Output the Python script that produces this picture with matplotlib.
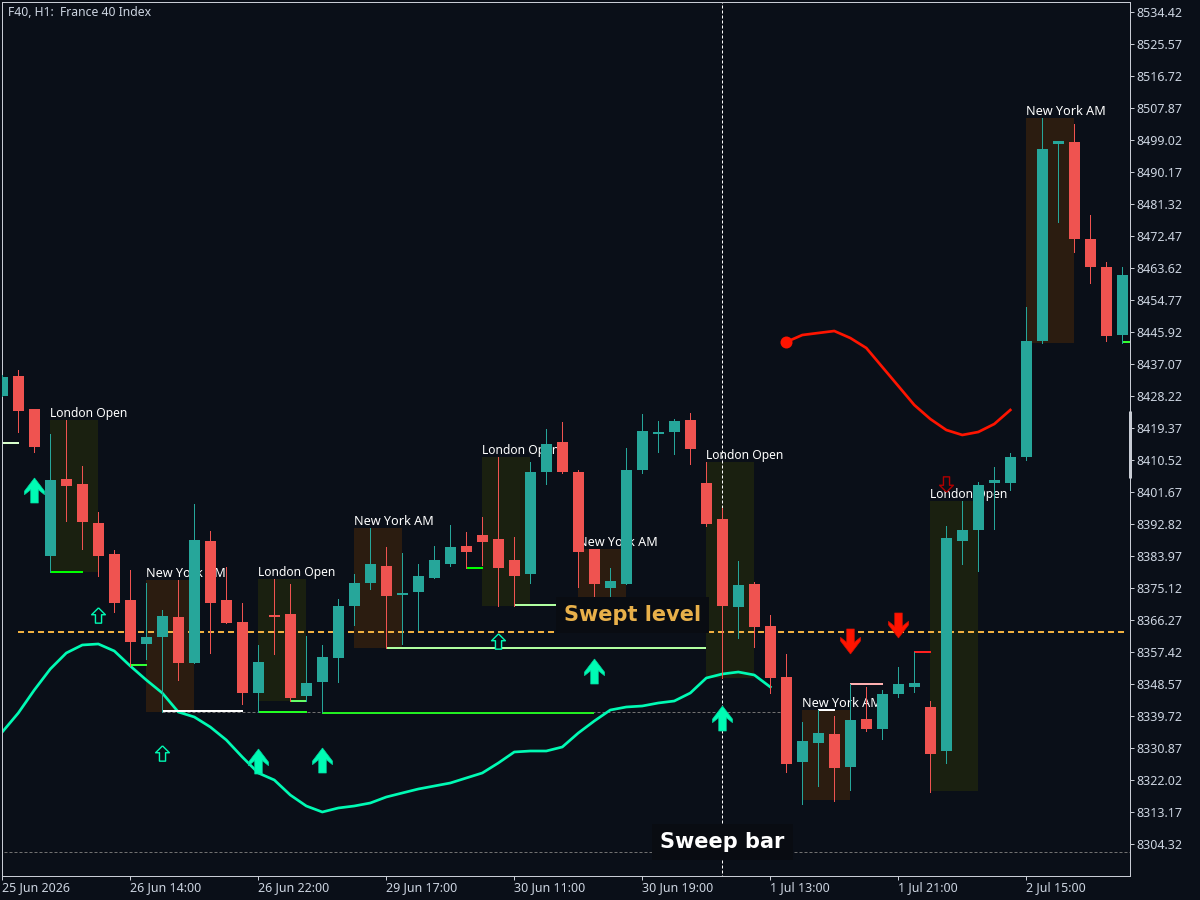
# -*- coding: utf-8 -*-
import numpy as np
from matplotlib import pyplot as plt
from matplotlib.path import Path

highs = [8434.11, 8435.49, 8424.71, 8417.79, 8421.66, 8408.94, 8396.22, 8385.71, 8380.18, 8376.59,
         8369.12, 8377.42, 8398.43, 8390.97, 8381.01, 8371.05, 8359.44, 8377.69, 8376.31, 8361.93,
         8359.44, 8372.16, 8379.07, 8391.80, 8386.54, 8384.88, 8381.84, 8386.82, 8392.63, 8390.69,
         8394.84, 8411.43, 8389.31, 8410.05, 8419.18, 8421.11, 8407.84, 8385.99, 8380.73, 8413.92,
         8423.32, 8421.39, 8421.94, 8423.60, 8410.05, 8397.33, 8382.67, 8376.86, 8367.74, 8356.95,
         8338.14, 8341.46, 8339.80, 8348.65, 8347.82, 8346.99, 8353.35, 8357.50, 8343.95, 8392.35,
         8399.26, 8404.52, 8408.67, 8412.54, 8452.92, 8505.19, 8498.83, 8503.53, 8478.36, 8465.36,
         8463.98]
opens = [8428.30, 8433.83, 8424.71, 8384.05, 8405.35, 8403.96, 8393.18, 8384.61, 8371.88, 8359.72,
         8361.65, 8367.18, 8354.46, 8388.20, 8371.88, 8365.80, 8346.16, 8367.74, 8368.01, 8345.33,
         8349.21, 8355.84, 8370.22, 8376.59, 8381.29, 8373.27, 8374.10, 8377.97, 8381.84, 8386.82,
         8389.86, 8388.75, 8382.95, 8379.07, 8407.28, 8415.58, 8407.28, 8385.99, 8375.20, 8376.31,
         8407.84, 8417.79, 8418.35, 8421.66, 8404.24, 8394.29, 8369.95, 8376.31, 8364.69, 8350.59,
         8327.08, 8332.34, 8334.83, 8325.70, 8338.97, 8336.21, 8345.89, 8347.82, 8342.29, 8330.12,
         8388.20, 8391.24, 8404.24, 8404.24, 8411.43, 8443.51, 8498.00, 8498.55, 8471.72, 8463.98,
         8445.17]
closes = [8433.56, 8424.15, 8414.20, 8405.07, 8403.41, 8393.46, 8384.05, 8371.05, 8360.27, 8361.65,
          8367.46, 8354.46, 8388.48, 8371.05, 8365.52, 8346.16, 8354.74, 8367.18, 8344.78, 8348.93,
          8356.12, 8370.22, 8376.59, 8381.84, 8372.99, 8373.82, 8378.52, 8382.95, 8386.54, 8385.16,
          8387.92, 8380.73, 8378.52, 8407.28, 8415.03, 8407.28, 8385.16, 8376.31, 8377.14, 8407.84,
          8418.62, 8418.35, 8421.39, 8413.64, 8392.90, 8370.22, 8376.03, 8364.42, 8350.31, 8326.53,
          8332.89, 8335.10, 8325.42, 8338.70, 8336.21, 8345.89, 8348.65, 8348.93, 8329.29, 8389.03,
          8391.24, 8403.69, 8405.07, 8411.43, 8443.51, 8496.61, 8498.83, 8471.72, 8463.98, 8444.90,
          8461.77]
lows = [8428.30, 8418.35, 8412.81, 8379.63, 8393.73, 8385.99, 8378.52, 8368.57, 8353.63, 8355.57,
        8340.91, 8349.76, 8354.46, 8357.23, 8365.52, 8343.12, 8340.91, 8356.95, 8343.95, 8343.95,
        8340.91, 8349.21, 8364.97, 8374.93, 8358.61, 8359.72, 8363.59, 8377.97, 8381.29, 8380.73,
        8381.56, 8370.22, 8370.22, 8376.59, 8403.96, 8407.01, 8375.48, 8363.03, 8371.88, 8376.31,
        8407.01, 8412.81, 8412.26, 8409.50, 8392.35, 8350.31, 8361.37, 8358.89, 8346.16, 8324.32,
        8315.47, 8320.44, 8316.30, 8319.34, 8335.65, 8333.44, 8345.06, 8346.44, 8318.78, 8326.80,
        8381.84, 8379.90, 8391.52, 8402.31, 8410.60, 8442.96, 8476.42, 8468.13, 8459.55, 8443.51,
        8442.96]

# moving average, bars 0..48
ma_values = [8335.38, 8340.63, 8346.99, 8352.80, 8357.23, 8359.44, 8359.72, 8357.78, 8353.63, 8349.76,
             8346.16, 8340.91, 8339.53, 8336.76, 8333.17, 8328.46, 8324.04, 8322.10, 8317.95, 8314.91,
             8313.25, 8314.36, 8314.91, 8315.74, 8317.40, 8318.51, 8319.61, 8320.44, 8321.27, 8322.66,
             8324.04, 8326.80, 8329.85, 8330.12, 8330.12, 8331.23, 8335.10, 8338.42, 8341.46, 8342.29,
             8342.57, 8343.40, 8343.95, 8346.16, 8350.31, 8351.42, 8351.97, 8351.14, 8347.82]

# red forecast curve, bars 49..63
red_bars = list(range(49, 64))
red_values = [8443.24, 8445.17, 8445.73, 8446.28, 8444.34, 8441.58, 8436.32, 8431.07, 8425.81, 8421.94,
              8418.90, 8417.52, 8418.35, 8420.56, 8424.43]

session_names = ["London Open", "New York AM", "London Open", "New York AM", "London Open",
                 "New York AM", "London Open", "New York AM", "London Open", "New York AM"]
session_start = [3, 9, 16, 22, 30, 36, 44, 50, 58, 64]
session_end = [6, 12, 19, 25, 33, 39, 47, 53, 61, 67]
session_top = [8421.66, 8377.42, 8377.69, 8391.80, 8411.43, 8385.99, 8410.05, 8341.46, 8399.26, 8505.19]
session_bottom = [8379.63, 8340.91, 8343.95, 8358.61, 8370.22, 8363.03, 8350.31, 8316.57, 8319.06, 8442.96]

level_start = [0, 3, 8, 10, 16, 18, 20, 29, 32, 24, 37, 51, 53, 57, 70]
level_end = [1.05, 5.05, 9.05, 15.05, 19.05, 19.05, 37, 30.05, 38, 44, 44, 52.05, 55.05, 58.05, 71]
level_price = [8415.30, 8379.63, 8353.91, 8341.19, 8340.91, 8343.95, 8340.63, 8380.73, 8370.50,
               8358.61, 8363.03, 8341.46, 8348.65, 8357.50, 8443.24]
level_color = ["#d8ffcc", "#00ff00", "#33ff33", "#ffffff", "#22ff22", "#66ff66", "#22ee22", "#00ff00",
               "#b0ffa0", "#b0ffa0", "#b0ffa0", "#ffffff", "#ffb0b0", "#ff2020", "#33ff33"]

swept_price = 8363.03
grey_price_a = 8340.91
grey_price_b = 8302.19
sweep_bar = 45

big_up_bars = [2, 16, 20, 37, 45]
big_up_prices = [8402.44, 8327.36, 8327.77, 8352.11, 8339.25]
small_up_bars = [6, 10, 31]
small_up_prices = [8367.87, 8329.43, 8360.55]
big_down_bars = [53, 56]
big_down_prices = [8360.41, 8364.97]
small_down_bars = [59]
small_down_prices = [8404.10]

y_ticks = [8534.42, 8525.57, 8516.72, 8507.87, 8499.02, 8490.17, 8481.32, 8472.47, 8463.62, 8454.77,
           8445.92, 8437.07, 8428.22, 8419.37, 8410.52, 8401.67, 8392.82, 8383.97, 8375.12, 8366.27,
           8357.42, 8348.57, 8339.72, 8330.87, 8322.02, 8313.17, 8304.32]
x_ticks = [0, 8, 16, 24, 32, 40, 48, 56, 64]
x_labels = ["25 Jun 2026", "26 Jun 14:00", "26 Jun 22:00", "29 Jun 17:00", "30 Jun 11:00",
            "30 Jun 19:00", "1 Jul 13:00", "1 Jul 21:00", "2 Jul 15:00"]

BG = "#0a0f18"
UP = "#26a69a"
DOWN = "#ef5350"
FRAME = "#c8ccd4"
TEXT = "#ccd4e0"
MINT = "#00fbb4"
px = 0.72  # one pixel in points at dpi 100

plt.rcParams["font.family"] = ["Noto Sans", "DejaVu Sans"]

up_big = Path([(0, 1), (0.8, -0.05), (0.8, -0.33), (0.3, 0.07), (0.3, -1), (-0.3, -1),
               (-0.3, 0.07), (-0.8, -0.33), (-0.8, -0.05), (0, 1)])
down_big = Path(up_big.vertices * [1, -1])
up_small = Path([(0, 1), (0.9, 0.1), (0.4, 0.1), (0.4, -1), (-0.4, -1), (-0.4, 0.1), (-0.9, 0.1), (0, 1)])
down_small = Path(up_small.vertices * [1, -1])

fig = plt.figure(figsize=(12, 9), dpi=100, facecolor=BG)
ax = fig.add_axes([2 / 1200, 1 - 876 / 900, 1128 / 1200, 874 / 900], facecolor=BG)

bars = np.arange(len(opens))
opens_a = np.array(opens)
closes_a = np.array(closes)
colors = [UP if c >= o else DOWN for o, c in zip(opens, closes)]

# session boxes sit at the very back
for name, s, e, top, bottom in zip(session_names, session_start, session_end, session_top, session_bottom):
    london = name.startswith("London")
    ax.bar(s, top - bottom, bottom=bottom, width=e - s, align="edge", linewidth=0, antialiased=False,
           color="#1a2010" if london else "#2b1c10", zorder=1)
    ax.annotate(name, (s, top), xytext=(0, 0), textcoords="offset points", color="white",
                fontsize=8.7 if london else 9.1, ha="left", va="bottom", zorder=2)

ax.hlines(grey_price_a, 10, 49, color="#707070", lw=px, linestyle=(0, (3, 2)), zorder=1.5)
ax.hlines(grey_price_b, -1, 72, color="#707070", lw=px, linestyle=(0, (3, 2)), zorder=1.5)
ax.vlines(sweep_bar, 8295, 8538, color="white", lw=px, linestyle=(0, (3, 2)), zorder=1.5)

ax.plot(np.arange(len(ma_values)), ma_values, color=MINT, lw=2.7 * px, zorder=2.2)
ax.plot(red_bars, red_values, color="#ff1400", lw=2.7 * px, zorder=2.2)
ax.plot(red_bars[:1], red_values[:1], "o", color="#ff1400", ms=12 * px, mew=0, zorder=2.2)

for s, e, p, c in zip(level_start, level_end, level_price, level_color):
    ax.plot([s, e], [p, p], color=c, lw=2 * px, solid_capstyle="butt", zorder=2.4)
ax.plot([1, 70.35], [swept_price, swept_price], color="#f0b040", lw=2 * px, linestyle=(0, (3, 2)), zorder=2.6)

ax.plot(big_up_bars, big_up_prices, linestyle="none", marker=up_big, ms=18, mfc=MINT, mec="#00d8a0", mew=0.5, zorder=4)
ax.plot(small_up_bars, small_up_prices, linestyle="none", marker=up_small, ms=11, mfc=BG, mec=MINT, mew=1.0, zorder=4)
ax.plot(big_down_bars, big_down_prices, linestyle="none", marker=down_big, ms=18, mfc="#ff1400", mec="#d81000", mew=0.5, zorder=4)
ax.plot(small_down_bars, small_down_prices, linestyle="none", marker=down_small, ms=11, mfc=BG, mec="#b00000", mew=1.0, zorder=4)

# candles over everything except the two callouts
ax.vlines(bars, lows, highs, colors=colors, lw=px, antialiased=False, zorder=5)
ax.bar(bars, np.abs(closes_a - opens_a), bottom=np.minimum(opens_a, closes_a), width=11 / 16,
       color=colors, linewidth=0, antialiased=False, zorder=5)

ax.text(39.4, 8367.73, "Swept level", family="DejaVu Sans", weight="bold", fontsize=15, color="#e8b04a",
        ha="center", va="center", zorder=6, bbox=dict(facecolor="#090c12", edgecolor="none", pad=5.5))
ax.text(sweep_bar, 8304.95, "Sweep bar", family="DejaVu Sans", weight="bold", fontsize=15, color="white",
        ha="center", va="center", zorder=6, bbox=dict(facecolor="#090c12", edgecolor="none", pad=6))

ax.set_xlim((2 - 2.3) / 16, (1130 - 2.3) / 16)
ax.set_ylim(8295.55, 8537.27)

ax.yaxis.tick_right()
ax.set_yticks(y_ticks, [f"{v:.2f}" for v in y_ticks])
ax.set_xticks(x_ticks, x_labels, ha="left")
ax.tick_params(axis="both", color=FRAME, labelcolor=TEXT, labelsize=9, length=4 * px, width=px, pad=2)
ax.tick_params(axis="x", pad=1)
for spine in ax.spines.values():
    spine.set_color(FRAME)
    spine.set_linewidth(px)

# scale bar on the price axis
ax.plot([1, 1], [8405.62, 8424.15], transform=ax.get_yaxis_transform(), color=FRAME, lw=3 * px,
        solid_capstyle="butt", clip_on=False, zorder=7)

fig.text(8 / 1200, 1 - 13 / 900, "F40, H1:  France 40 Index", color=TEXT, fontsize=8.8, ha="left", va="center")

fig.savefig("out.png", dpi=100, facecolor=BG)
